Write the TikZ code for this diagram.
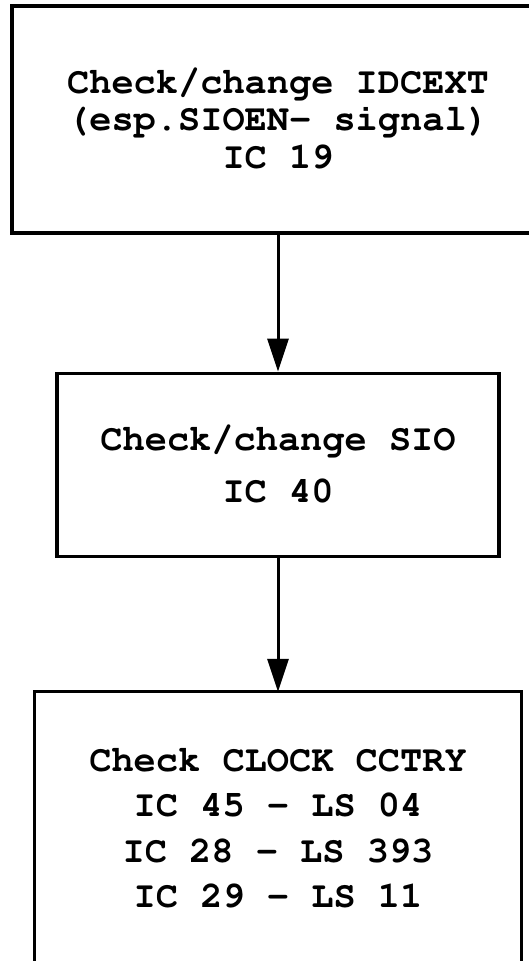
\documentclass[tikz,border=0pt]{standalone}
\usepackage[T1]{fontenc}
\usepackage{courier}
\usepackage{tikz}
\usetikzlibrary{arrows.meta,positioning}
\tikzstyle{stepbox} = [draw, line width=3.2pt, inner sep=0pt, align=center, font=\ttfamily\bfseries\fontsize{37}{37.5}\selectfont]
\tikzstyle{arrow} = [line width=3pt,-{Triangle[length=33pt,width=21pt]}]

\begin{document}
\begin{tikzpicture}
\useasboundingbox (0,0) rectangle (529pt,-961pt);
\clip (0,0) rectangle (529pt,-961pt);

% Boxes
\node[stepbox, minimum width=532pt, minimum height=227pt] (idcext) at (278pt,-119.5pt)
    {Check/change IDCEXT\\(esp.SIOEN- signal)\\IC 19};
\node[stepbox, minimum width=442pt, minimum height=183pt, below=137pt of idcext] (sio)
    {Check/change SIO\\[14.5pt]IC 40};
\node[stepbox, draw=none, minimum width=484pt, minimum height=270pt, below=134pt of sio,
    font=\ttfamily\bfseries\fontsize{37}{45.5}\selectfont] (clock)
    {Check CLOCK CCTRY\\IC 45 - LS 04\\IC 28 - LS 393\\IC 29 - LS 11};
\draw[line width=3.2pt] (clock.south west) -- (clock.north west) -- (clock.north east) -- (clock.south east);
\draw[line width=2pt, gray, dash pattern=on 9pt off 5pt] (clock.south west) -- (clock.south east);

% Arrows
\draw[arrow] (idcext) -- (sio);
\draw[arrow] (sio) -- (clock);
\end{tikzpicture}
\end{document}
